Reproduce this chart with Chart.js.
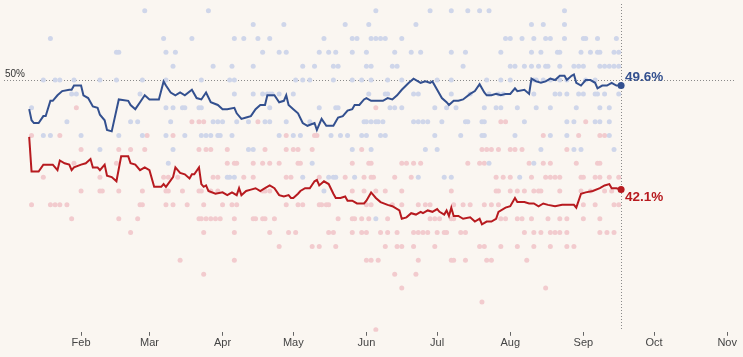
<!DOCTYPE html>
<html><head><meta charset="utf-8">
<script src="https://cdn.jsdelivr.net/npm/chart.js@4.4.1/dist/chart.umd.min.js"></script>
<style>html,body{margin:0;padding:0;background:#faf6f1;}#wrap{width:743px;height:357px;position:relative;}</style>
</head><body><div id="wrap"><canvas id="c" width="743" height="357"></canvas></div>
<script>
// x values are days counted from 1 Jan 2020 (day 0); y values are percentages
const monthLabels = ['Feb','Mar','Apr','May','Jun','Jul','Aug','Sep','Oct','Nov'];
const monthStartDays = [31,60,91,121,152,182,213,244,274,305];
const todayDay = 260;
const referenceLevel = 50;
const xRange = [-1.68, 310];
const yRange = [31.85, 55.48];

const demAverage = [[9,47.9],[10,47.1],[11,46.9],[13,46.9],[15,47.4],[16,47.4],[18,48.5],[19,48.5],[21,48.9],[23,49.2],[26,49.3],[27,49.3],[28,49.6],[31,49.6],[32,48.9],[34,48.7],[36,48.1],[38,48.0],[39,47.5],[41,47.1],[42,46.4],[44,46.3],[47,48.6],[51,48.5],[52,48.2],[54,47.9],[56,48.4],[58,48.9],[60,48.6],[61,48.6],[64,48.6],[66,49.9],[67,49.6],[69,49.1],[71,48.9],[73,49.1],[75,48.9],[78,49.3],[80,48.7],[82,48.6],[84,49.1],[86,48.4],[89,48.2],[91,47.9],[93,47.9],[96,48.0],[97,47.6],[99,47.2],[101,47.3],[103,47.4],[105,47.9],[107,48.2],[109,48.2],[110,48.9],[113,48.9],[115,48.4],[117,48.5],[118,48.9],[119,48.2],[121,47.9],[123,47.6],[125,46.9],[127,46.7],[130,46.9],[131,46.4],[133,47.2],[135,46.7],[138,46.7],[140,47.3],[142,47.4],[144,47.8],[146,47.9],[147,48.2],[149,48.2],[151,48.6],[152,48.7],[154,48.5],[157,48.5],[159,48.5],[161,48.7],[163,48.6],[165,48.9],[167,49.3],[170,49.8],[172,50.1],[175,49.8],[177,49.9],[179,49.8],[180,49.9],[182,49.3],[184,48.7],[186,48.4],[187,48.2],[189,48.5],[191,48.5],[193,48.6],[196,49.0],[198,49.2],[200,49.7],[202,49.1],[203,48.9],[205,48.9],[207,49.0],[209,48.9],[211,49.0],[213,49.0],[215,49.4],[216,49.2],[219,49.3],[221,49.0],[222,50.1],[224,49.9],[226,49.8],[228,49.9],[230,50.1],[232,50.0],[234,50.3],[236,50.3],[237,50.0],[239,50.3],[240,50.4],[241,49.8],[243,49.6],[245,50.0],[247,50.0],[249,49.8],[250,49.4],[252,49.6],[254,49.6],[256,49.8],[258,49.6],[260,49.6]];

const repAverage = [[9,45.9],[10,43.4],[13,43.4],[15,43.9],[19,43.9],[21,43.5],[22,44.2],[24,44.0],[26,43.9],[27,43.5],[28,43.7],[31,43.9],[33,44.0],[35,44.3],[36,43.7],[38,43.7],[39,43.5],[41,43.9],[42,43.1],[44,43.0],[46,42.7],[48,44.5],[51,44.5],[52,44.0],[54,43.9],[56,43.5],[58,43.7],[60,43.5],[62,42.3],[65,42.3],[66,42.5],[67,42.3],[70,43.0],[71,43.7],[73,43.3],[75,43.2],[77,42.9],[78,43.2],[79,43.2],[81,43.7],[82,42.5],[83,42.3],[84,42.4],[85,42.0],[88,41.8],[91,41.9],[93,41.7],[95,41.9],[97,41.7],[98,42.2],[99,41.7],[101,42.0],[103,42.1],[105,42.2],[107,42.0],[109,42.2],[111,42.4],[113,42.2],[115,41.7],[117,41.6],[119,41.7],[120,41.5],[121,41.5],[123,41.8],[124,42.0],[126,42.2],[128,42.2],[130,42.7],[131,42.8],[132,42.4],[134,42.7],[136,42.5],[138,41.8],[139,41.5],[141,41.5],[143,41.6],[144,41.3],[146,41.3],[148,41.1],[151,41.1],[152,41.3],[154,41.9],[156,41.5],[158,41.2],[161,41.0],[163,40.9],[166,40.6],[167,40.0],[169,40.1],[171,40.4],[173,40.3],[175,40.5],[176,40.4],[178,40.6],[180,40.5],[182,40.7],[183,40.5],[185,40.3],[186,40.6],[187,40.2],[188,40.8],[189,40.2],[191,40.2],[193,40.0],[196,40.1],[198,39.8],[200,40.0],[201,39.6],[203,39.8],[205,39.8],[207,40.0],[208,40.5],[211,40.8],[213,40.9],[215,41.5],[216,41.2],[219,41.2],[221,41.1],[223,41.1],[225,40.9],[227,41.1],[229,41.0],[232,40.9],[235,41.0],[237,41.0],[240,41.0],[241,40.8],[243,41.8],[245,41.9],[248,42.0],[251,42.2],[253,42.4],[255,42.5],[256,42.2],[258,42.2],[260,42.1]];

// individual polls: [value, [days...]]
const demPolls = [
 [55,[58,85,156,179,188,195,200,204,236]],
 [54,[104,117,143,153,173,222,227,236]],
 [53,[18,66,78,96,100,106,111,134,146,148,154,156,158,160,167,211,213,218,223,228,230,236,244,245,250,258]],
 [52,[46,47,67,71,108,115,118,132,136,139,146,152,164,171,175,188,194,209,222,226,233,234,243,247,250,251,257,259]],
 [51,[70,87,95,104,125,130,138,140,152,154,163,165,193,213,215,219,222,225,228,229,234,240,242,244,251,253,255,257,259]],
 [50,[15,20,22,28,39,46,57,67,82,94,96,122,125,128,138,146,150,154,161,167,182,188,203,209,213,223,224,227,230,234,237,245,249]],
 [49,[27,29,56,96,104,108,110,111,112,115,121,153,160,161,172,174,188,196,204,208,210,223,232,234,237,242,244,249,250,253,259]],
 [48,[10,67,70,74,75,81,82,111,132,139,140,162,164,167,181,186,190,202,207,209,216,224,230,241,251,255]],
 [47,[25,52,55,69,87,89,91,97,102,109,111,118,128,151,152,154,156,157,159,172,174,176,178,184,194,195,201,202,219,237,240,249,251,255]],
 [46,[15,18,31,47,57,67,75,82,84,86,89,90,95,115,121,124,137,141,144,150,152,158,160,181,192,201,202,215,230,237,255]],
 [45,[39,70,102,104,146,154,177,182,226,240,243,257]],
 [44,[68,129,204,223]],
 [43,[93,94,96,125,136,138,139,147,174,185,188,217]],
 [42,[134]],
 [40,[156]]
];
const repPolls = [
 [48,[29,156]],
 [47,[78,81,83,106,209,211,245]],
 [46,[10,22,59,70,118,130,131,227,242,251,253]],
 [45,[31,47,52,58,81,84,86,93,109,118,121,123,129,150,201,203,205,208,213,215,218,237]],
 [44,[28,46,93,96,97,104,108,111,115,123,124,146,153,154,167,169,172,175,195,200,202,221,227,230,241,250,251]],
 [43,[15,39,66,68,72,87,89,100,104,118,120,132,143,151,154,155,164,171,207,210,213,222,228,230,232,234,243,244,249,251,255,259]],
 [42,[31,39,40,47,57,67,68,74,81,82,86,89,108,109,111,146,151,156,160,167,188,207,208,213,216,219,223,225,226,234,243,247,253,256]],
 [41,[10,18,20,22,25,56,57,67,70,76,83,91,95,97,118,123,125,132,133,135,136,152,154,163,167,174,177,179,189,193,196,202,205,208,244,249,257,259]],
 [40,[27,47,55,81,82,84,86,88,90,96,104,105,108,109,113,140,146,147,150,153,161,179,181,183,188,189,209,211,216,218,222,229,234,237,244,251]],
 [39,[52,83,96,111,119,122,136,138,146,150,152,158,161,165,172,174,176,178,182,185,186,192,194,219,223,226,230,232,234,237,251,254,257]],
 [38,[115,129,132,139,160,165,167,172,181,200,202,209,216,223,230,237,240]],
 [37,[73,96,152,154,157,174,188,189,194,203,205,220]],
 [36,[83,164,173]],
 [35,[167,228]],
 [34,[201]],
 [32,[156]]
];

const BLUE = '#33508f', RED = '#b71a1f', BLUE_DOT = '#cfd6ea', RED_DOT = '#f2cbce';
const toXY = arr => arr.map(p => ({x:p[0], y:p[1]}));
const pollPoints = rows => rows.flatMap(r => r[1].map(d => ({x:d, y:r[0]})));
const endRadius = len => ctx => ctx.dataIndex === len - 1 ? 3.5 : 0;

const overlay = {
  id: 'overlay',
  beforeDatasetsDraw(chart) {
    const {ctx, scales:{x, y}, chartArea} = chart;
    ctx.save();
    ctx.strokeStyle = '#8a8a8a';
    ctx.lineWidth = 1;
    ctx.setLineDash([1, 2]);
    const y50 = Math.round(y.getPixelForValue(referenceLevel)) + 0.5;
    ctx.beginPath(); ctx.moveTo(chartArea.left, y50); ctx.lineTo(chart.width - 8, y50); ctx.stroke();
    const xt = Math.round(x.getPixelForValue(todayDay)) + 0.5;
    ctx.beginPath(); ctx.moveTo(xt, chartArea.top); ctx.lineTo(xt, chartArea.bottom - 2); ctx.stroke();
    ctx.restore();
  },
  afterDatasetsDraw(chart) {
    const {ctx, scales:{x, y}} = chart;
    ctx.save();
    ctx.font = '10px "Liberation Sans", Arial, sans-serif';
    ctx.fillStyle = '#333';
    ctx.textBaseline = 'bottom';
    ctx.fillText(referenceLevel + '%', 5, y.getPixelForValue(referenceLevel) - 1);
    ctx.font = 'bold 13.5px "Liberation Sans", Arial, sans-serif';
    ctx.textBaseline = 'middle';
    const dl = demAverage[demAverage.length - 1], rl = repAverage[repAverage.length - 1];
    const xl = x.getPixelForValue(todayDay) + 4;
    ctx.fillStyle = BLUE;
    ctx.fillText(dl[1].toFixed(1) + '%', xl, y.getPixelForValue(dl[1]) - 8);
    ctx.fillStyle = RED;
    ctx.fillText(rl[1].toFixed(1) + '%', xl, y.getPixelForValue(rl[1]) + 8);
    ctx.restore();
  }
};

new Chart(document.getElementById('c'), {
  type: 'scatter',
  data: { datasets: [
    { data: pollPoints(repPolls), backgroundColor: RED_DOT, borderWidth: 0, pointRadius: 2.5, order: 4 },
    { data: pollPoints(demPolls), backgroundColor: BLUE_DOT, borderWidth: 0, pointRadius: 2.5, order: 3 },
    { type: 'line', data: toXY(repAverage), borderColor: RED, borderWidth: 2, backgroundColor: RED, tension: 0, fill: false,
      pointRadius: endRadius(repAverage.length), pointBorderWidth: 0, order: 2 },
    { type: 'line', data: toXY(demAverage), borderColor: BLUE, borderWidth: 2, backgroundColor: BLUE, tension: 0, fill: false,
      pointRadius: endRadius(demAverage.length), pointBorderWidth: 0, order: 1 }
  ]},
  options: {
    responsive: false, animation: false,
    layout: { padding: { left: 0, right: 0, top: 0, bottom: 6 } },
    plugins: { legend: { display: false }, tooltip: { enabled: false } },
    scales: {
      x: { type: 'linear', min: xRange[0], max: xRange[1],
        afterBuildTicks: s => { s.ticks = monthStartDays.map(v => ({ value: v })); },
        ticks: { autoSkip: false, maxRotation: 0, padding: 1, color: '#444',
          font: { family: '"Liberation Sans Narrow", "Liberation Sans", Arial, sans-serif', size: 11 },
          callback: v => monthLabels[monthStartDays.indexOf(v)] },
        grid: { drawOnChartArea: false, drawTicks: true, tickLength: 4, tickColor: '#666', tickWidth: 1 },
        border: { display: false } },
      y: { display: false, min: yRange[0], max: yRange[1] }
    }
  },
  plugins: [overlay]
});
</script></body></html>
